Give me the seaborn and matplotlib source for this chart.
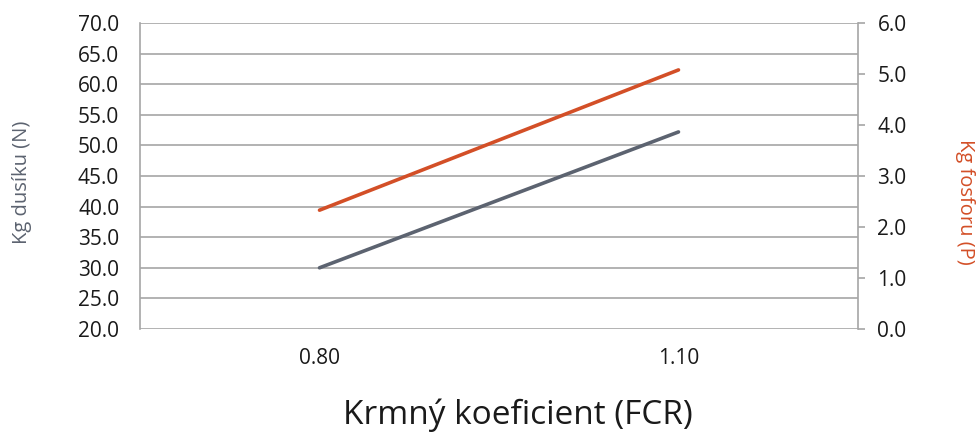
import numpy as np
import pandas as pd
import matplotlib
matplotlib.use('Agg')
import matplotlib.pyplot as plt
import seaborn as sns

fcr = ['0.80', '1.10']
dusik = [30.0, 52.2]
fosfor = [2.33, 5.08]

grey = '#5c6370'
orange = '#d34f27'
gridc = '#a6a6a6'

sns.set_style('white')
plt.rcParams['font.family'] = ['Open Sans', 'DejaVu Sans']

df = pd.DataFrame({'FCR': fcr, 'N': dusik, 'P': fosfor})
df['pos'] = np.arange(len(fcr))

fig = plt.figure(figsize=(9.78, 4.34), dpi=100)
ax1 = fig.add_axes([140/978, 1 - 329/434, 718/978, 306/434])
ax2 = ax1.twinx()

sns.lineplot(x='pos', y='N', data=df, ax=ax1, color=grey, linewidth=2.6, solid_capstyle='round')
sns.lineplot(x='pos', y='P', data=df, ax=ax2, color=orange, linewidth=2.6, solid_capstyle='round')

ax1.set_xlim(-0.5, 1.5)
ax1.set_ylim(20, 70)
ax1.set_yticks(np.arange(20, 70.1, 5))
ax1.set_yticklabels([f'{v:.1f}' for v in np.arange(20, 70.1, 5)])
ax2.set_ylim(0, 6)
ax2.set_yticks(np.arange(0, 6.1, 1))
ax2.set_yticklabels([f'{v:.1f}' for v in np.arange(0, 6.1, 1)])

ax1.set_xticks(df['pos'])
ax1.set_xticklabels(fcr)

ax1.grid(axis='y', color=gridc, linewidth=1.2)
ax1.set_axisbelow(True)
for a in (ax1, ax2):
    for s in ['top', 'bottom']:
        a.spines[s].set_visible(False)
ax1.spines['right'].set_visible(False)
ax1.spines['left'].set_color(gridc)
ax1.spines['left'].set_linewidth(1.2)
ax2.spines['left'].set_visible(False)
ax2.spines['right'].set_color(gridc)
ax2.spines['right'].set_linewidth(1.2)

ax1.tick_params(axis='y', length=0, pad=15, labelsize=15, labelcolor='#1a1a1a')
ax1.tick_params(axis='x', length=0, pad=14, labelsize=15, labelcolor='#1a1a1a')
ax2.tick_params(axis='y', length=5, width=1.2, color=gridc, pad=9, labelsize=15, labelcolor='#1a1a1a')

ax1.set_xlabel('Krmný koeficient (FCR)', fontsize=24, color='#1a1a1a')
ax1.xaxis.set_label_coords(0.526, -0.228)
ax1.set_ylabel('Kg dusíku (N)', fontsize=14.5, color=grey)
ax1.yaxis.set_label_coords(-0.150, 0.48)
ax2.set_ylabel('Kg fosforu (P)', fontsize=14.5, color=orange, rotation=270, va='center')
ax2.yaxis.set_label_coords(1.149, 0.415)

fig.savefig('out.png', dpi=100)
